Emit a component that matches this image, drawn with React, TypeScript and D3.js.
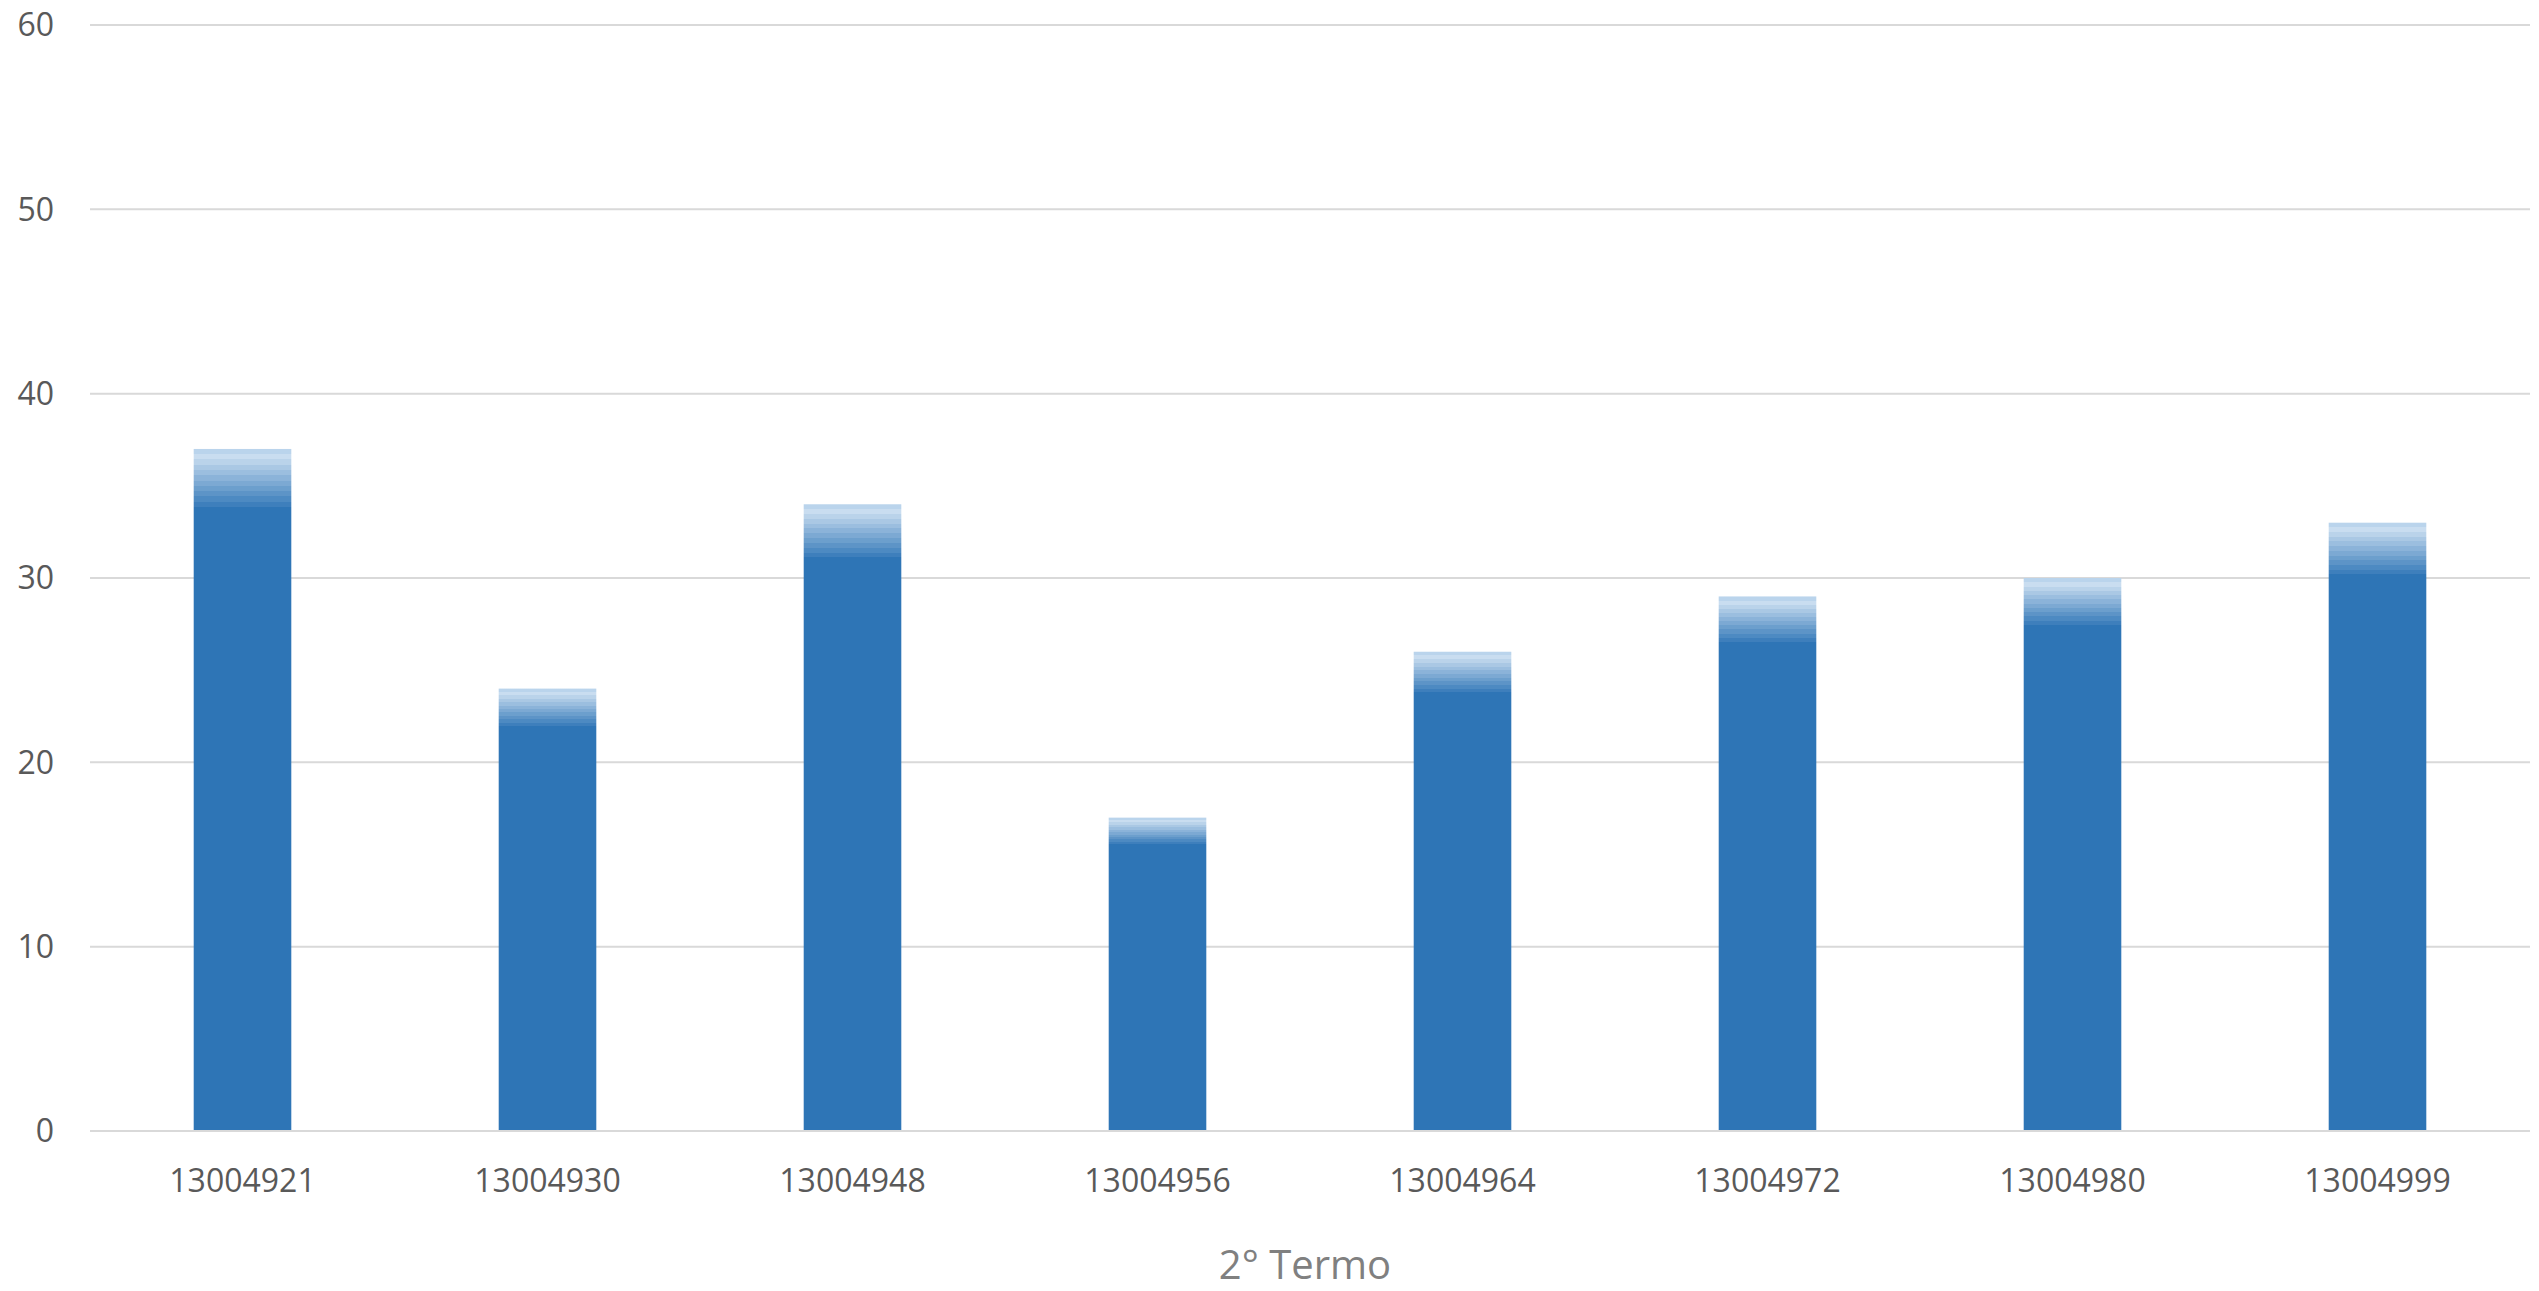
import React from "react";
import * as d3 from "d3";

const categories = ["13004921", "13004930", "13004948", "13004956", "13004964", "13004972", "13004980", "13004999"];
const values = [37, 24, 34, 17, 26, 29, 30, 33];
const yTicks = [0, 10, 20, 30, 40, 50, 60];
const axisTitle = "2° Termo";

const W = 2539;
const H = 1291;
const left = 90;
const right = 2530;
const top = 25;
const bottom = 1131;
const FONT = "'Open Sans', 'Liberation Sans', sans-serif";
const BAR = "#2E75B6";

export default function App() {
  const x = d3.scaleBand<string>().domain(categories).range([left, right]).paddingInner(0.68).paddingOuter(0.34);
  const y = d3.scaleLinear().domain([0, 60]).range([bottom, top]);

  // stepped gradient at top of each bar (fraction of bar height)
  const nBands = 11;
  const gradEnd = 0.085;
  const interp = d3.interpolateRgb("#C9DDF0", BAR);
  const stops: { off: number; color: string }[] = [];
  for (let i = 0; i < nBands; i++) {
    const c = i === 0 ? "#BAD4EC" : interp((i - 1) / (nBands - 1));
    const o0 = (i / nBands) * gradEnd;
    const o1 = ((i + 1) / nBands) * gradEnd;
    stops.push({ off: o0, color: c });
    stops.push({ off: o1, color: c });
  }
  stops.push({ off: gradEnd, color: BAR });
  stops.push({ off: 1, color: BAR });

  return (
    <svg width={W} height={H} style={{ position: "absolute", left: 0, top: 0, display: "block", background: "#fff" }}>
      <defs>
        <linearGradient id="barGrad" x1="0" y1="0" x2="0" y2="1">
          {stops.map((s, i) => (
            <stop key={i} offset={s.off} stopColor={s.color} />
          ))}
        </linearGradient>
      </defs>
      {yTicks.map((t) => (
        <g key={t}>
          <line x1={left} x2={right} y1={y(t)} y2={y(t)} stroke="#D9D9D9" strokeWidth={2} />
          <text x={54} y={y(t)} dy="0.35em" textAnchor="end" fontFamily={FONT} fontSize={32} fill="#595959">
            {t}
          </text>
        </g>
      ))}
      {categories.map((c, i) => (
        <rect
          key={c}
          x={x(c)}
          y={y(values[i])}
          width={x.bandwidth()}
          height={y(0) - y(values[i]) - 1}
          fill="url(#barGrad)"
        />
      ))}
      {categories.map((c) => (
        <text
          key={c}
          x={(x(c) as number) + x.bandwidth() / 2}
          y={1192}
          textAnchor="middle"
          fontFamily={FONT}
          fontSize={32}
          fill="#595959"
        >
          {c}
        </text>
      ))}
      <text x={(left + right) / 2 - 5} y={1279} textAnchor="middle" fontFamily={FONT} fontSize={40} fill="#808080">
        {axisTitle}
      </text>
    </svg>
  );
}
